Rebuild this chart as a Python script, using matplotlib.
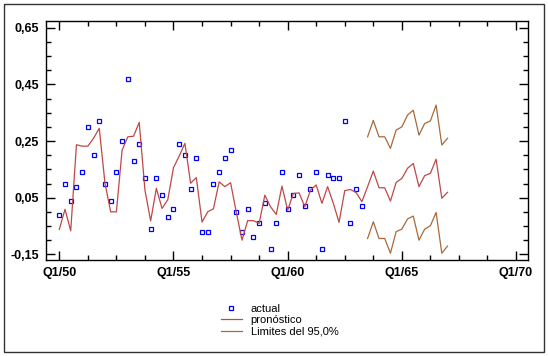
import numpy as np
import matplotlib
matplotlib.use("Agg")
import matplotlib.pyplot as plt
from matplotlib.patches import Rectangle
from matplotlib.ticker import MultipleLocator, FixedLocator

plt.rcParams['font.family'] = ['Liberation Sans', 'DejaVu Sans']

# ---- data (quarterly, starting Q1/50) ----
actual = [-0.010, 0.099, 0.039, 0.089, 0.141, 0.299, 0.201, 0.321, 0.099, 0.039,
          0.141, 0.249, 0.469, 0.178, 0.239, 0.120, -0.061, 0.120, 0.060, -0.019,
          0.010, 0.239, 0.201, 0.079, 0.191, -0.070, -0.070, 0.099, 0.141, 0.191,
          0.219, 0.000, -0.070, 0.010, -0.089, -0.041, 0.030, -0.130, -0.041, 0.141,
          0.010, 0.060, 0.130, 0.019, 0.079, 0.141, -0.130, 0.130, 0.120, 0.120,
          0.321, -0.041, 0.079, 0.019]

forecast = [-0.062, 0.009, -0.067, 0.237, 0.232, 0.232, 0.260, 0.295, 0.101, 0.000,
            0.000, 0.218, 0.265, 0.267, 0.316, 0.077, -0.032, 0.083, 0.012, 0.043,
            0.156, 0.197, 0.242, 0.101, 0.121, -0.036, 0.000, 0.011, 0.106, 0.089,
            0.103, -0.001, -0.100, -0.031, -0.031, -0.041, 0.059, 0.018, -0.009, 0.091,
            0.006, 0.065, 0.067, 0.018, 0.077, 0.095, 0.030, 0.089, 0.030, -0.037,
            0.075, 0.079, 0.068, 0.036, 0.089, 0.144, 0.085, 0.085, 0.038, 0.104,
            0.118, 0.154, 0.171, 0.089, 0.128, 0.136, 0.186, 0.048, 0.069]

upper = [0.265, 0.323, 0.265, 0.265, 0.224, 0.289, 0.300, 0.342, 0.359, 0.271,
         0.312, 0.321, 0.377, 0.236, 0.260]
lower = [-0.094, -0.035, -0.094, -0.094, -0.146, -0.070, -0.061, -0.025, -0.015, -0.100,
         -0.061, -0.049, -0.002, -0.146, -0.121]

x_tick_labels = ["Q1/50", "Q1/55", "Q1/60", "Q1/65", "Q1/70"]
y_tick_values = [-0.15, 0.05, 0.25, 0.45, 0.65]
y_tick_labels = ["-0,15", "0,05", "0,25", "0,45", "0,65"]

t_act = np.arange(len(actual))
t_fc = np.arange(len(forecast))
t_lim = np.arange(len(forecast) - len(upper), len(forecast))

W, H = 548, 356
fig = plt.figure(figsize=(W / 100, H / 100), dpi=100)
ax = fig.add_axes([46 / W, 1 - 260 / H, 482.3 / W, 239.3 / H])

l_act, = ax.plot(t_act, actual, linestyle='none', marker='s', markersize=2.8,
                 markerfacecolor='none', markeredgecolor='#0000ff', markeredgewidth=0.9,
                 label='actual')
l_fc, = ax.plot(t_fc, forecast, color='#c04848', lw=0.9, label='pronóstico')
l_up, = ax.plot(t_lim, upper, color='#a86a3c', lw=0.9, label='Limites del 95,0%')
ax.plot(t_lim, lower, color='#a86a3c', lw=0.9)

ax.set_xlim(-2.33, 82.15)
ax.set_ylim(-0.170, 0.675)

ax.xaxis.set_major_locator(FixedLocator([0, 20, 40, 60, 80]))
ax.set_xticklabels(x_tick_labels)
ax.xaxis.set_minor_locator(MultipleLocator(5))
ax.yaxis.set_major_locator(FixedLocator(y_tick_values))
ax.set_yticklabels(y_tick_labels)
ax.yaxis.set_minor_locator(FixedLocator(np.arange(-0.15, 0.66, 0.05)))

ax.tick_params(which='both', direction='in', top=True, right=True, color='black')
ax.tick_params(which='major', length=6.5, width=1.0, pad=5, labelsize=9)
ax.tick_params(which='minor', length=3.5, width=1.0)
for lab in ax.get_xticklabels() + ax.get_yticklabels():
    lab.set_fontweight('bold')
for s in ax.spines.values():
    s.set_linewidth(1.0)
    s.set_color('black')

fig.legend(handles=[l_act, l_fc, l_up], loc='upper left',
           bbox_to_anchor=(215 / W, 1 - 298 / H), frameon=False, fontsize=8,
           handlelength=1.9, handletextpad=0.8, labelspacing=0.15, borderpad=0)

fig.patches.append(Rectangle((4 / W, 4 / H), 540 / W, 348 / H, transform=fig.transFigure,
                             fill=False, edgecolor='#333333', lw=1.0))

fig.savefig('out.png', dpi=100)
